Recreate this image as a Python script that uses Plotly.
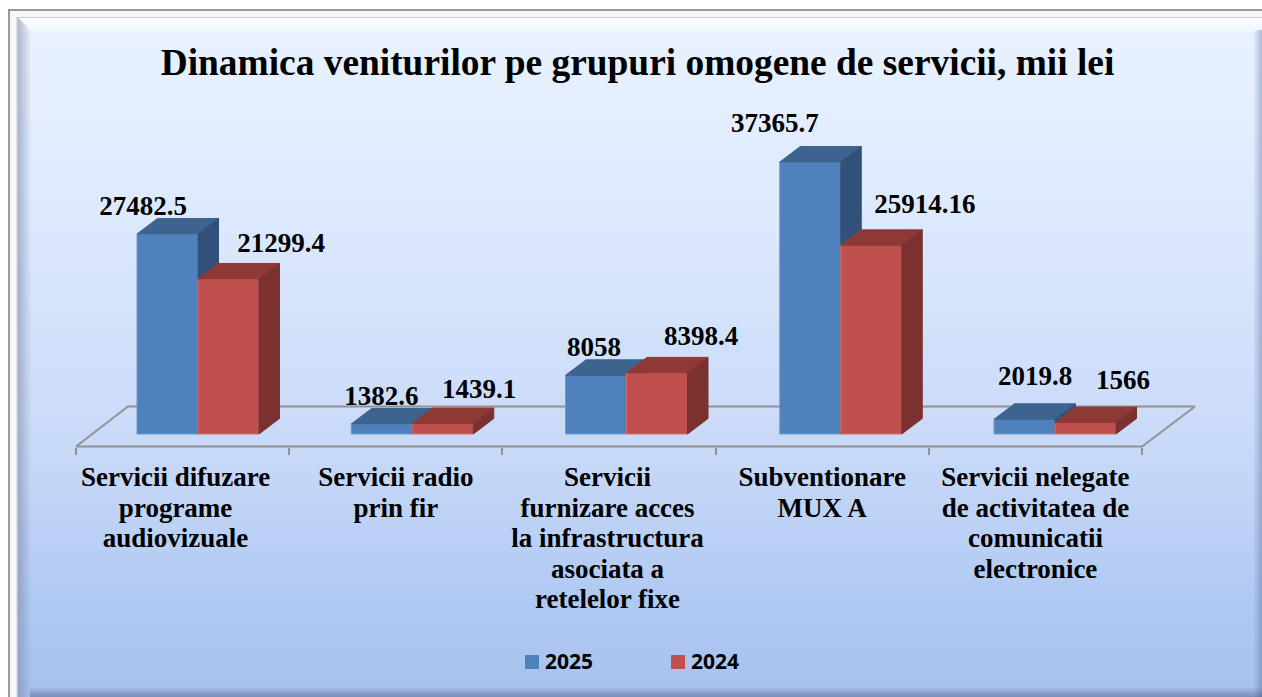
import plotly.graph_objects as go

# ---------- data ----------
categories = [
    "Servicii difuzare<br>programe<br>audiovizuale",
    "Servicii radio<br>prin fir",
    "Servicii<br>furnizare acces<br>la infrastructura<br>asociata a<br>retelelor fixe",
    "Subventionare<br>MUX A",
    "Servicii nelegate<br>de activitatea de<br>comunicatii<br>electronice",
]
series_names = ["2025", "2024"]
values_2025 = [27482.5, 1382.6, 8058, 37365.7, 2019.8]
values_2024 = [21299.4, 1439.1, 8398.4, 25914.16, 1566]
title_text = "Dinamica veniturilor pe grupuri omogene de servicii, mii lei"

# ---------- layout constants ----------
W, H = 1262, 697
BASE_PY = 434.0
VAL_PER_PX = 37365.7 / 272.0
FLOOR_X0, FLOOR_STEP = 76.0, 213.2
BAR_X0, BAR_STEP = 198.0, 214.25
BAR_W_BLUE, BAR_W_RED = 61.0, 61.0
DEPTH_X, DEPTH_Y = 20.5, 15.5
SERIF = "Liberation Serif"

# label offsets from the bar boundary / bar top, in pixels
lab_dx_2025 = [-55, -31, -32.5, -66, -20]
lab_up_2025 = [26, 26, 26.4, 37, 41]
lab_dx_2024 = [83, 66.75, 74.5, 84, 68]
lab_up_2024 = [34, 32.5, 35, 39.4, 40.6]
# horizontal nudge of each category label, in pixels
tick_nudge = [-7, 0, -1.5, 0, 0]

y_range = [(BASE_PY - H) * VAL_PER_PX, BASE_PY * VAL_PER_PX]
fx_range = [-FLOOR_X0 / FLOOR_STEP, (W - FLOOR_X0) / FLOOR_STEP]
bx_range = [-BAR_X0 / BAR_STEP, (W - BAR_X0) / BAR_STEP]


def py(p):  # pixel row -> value
    return (BASE_PY - p) * VAL_PER_PX


def lerp_hex(a, b, t):
    ca = [int(a[i:i + 2], 16) for i in (1, 3, 5)]
    cb = [int(b[i:i + 2], 16) for i in (1, 3, 5)]
    return "#" + "".join(f"{round(x + (y - x) * t):02x}" for x, y in zip(ca, cb))


def paper_rect(x0, y0, x1, y1, color):
    return dict(type="rect", xref="paper", yref="paper", layer="below", line_width=0,
                fillcolor=color, x0=x0 / W, x1=x1 / W, y0=1 - y0 / H, y1=1 - y1 / H)


shapes = []
# outer frame
shapes.append(paper_rect(8, 9, W, H, "#9a9a9a"))
shapes.append(paper_rect(10, 11, W, H, "#f5f7fb"))
shapes.append(paper_rect(16.5, 17, W, H, "#c6cad2"))

# vertical background gradient
stops = [(18, "#eaf2ff"), (210, "#dde9fd"), (450, "#c8d9f8"), (600, "#b0c9f2"), (697, "#a7c2ef")]
for row in range(18, H, 4):
    for (a, ca), (b, cb) in zip(stops, stops[1:]):
        if a <= row <= b:
            shapes.append(paper_rect(18, row, W, row + 4, lerp_hex(ca, cb, (row - a) / (b - a))))
            break

# bevels
for k in range(15):
    shapes.append(paper_rect(18, 18 + k, W, 19 + k, f"rgba(255,255,255,{0.75 - 0.035 * k:.3f})"))
for k in range(13):
    shapes.append(paper_rect(18 + k, 18 + k, 19 + k, H, f"rgba(120,130,160,{0.5 * (1 - k / 13):.3f})"))
for k in range(8):
    shapes.append(paper_rect(W - 8 + k, 30, W - 7 + k, H, f"rgba(70,90,140,{0.06 + 0.04 * k:.3f})"))
for k in range(10):
    shapes.append(paper_rect(30, H - 10 + k, W, H - 9 + k, f"rgba(60,70,110,{0.04 + 0.04 * k:.3f})"))

# custom legend squares (positions in pixels)
legend_colors = ["#4f81bd", "#c0504d"]
legend_sq_x = [525, 671]
for x, c in zip(legend_sq_x, legend_colors):
    shapes.append(paper_rect(x, 655, x + 14, 669, c))


def side_and_top(values, left, width):
    """Polygons for the receding faces of each bar, derived from its value."""
    dx = DEPTH_X / BAR_STEP
    dy = DEPTH_Y * VAL_PER_PX
    w = width / BAR_STEP
    sx, sy, tx, ty = [], [], [], []
    for i, v in enumerate(values):
        xl = i + left
        xr = xl + w
        sx += [xr, xr + dx, xr + dx, xr, xr, None]
        sy += [0, dy, v + dy, v, 0, None]
        tx += [xl, xl + dx, xr + dx, xr, xl, None]
        ty += [v, v + dy, v + dy, v, v, None]
    return sx, sy, tx, ty


def sized(label, px):
    return "<br>".join(f'<span style="font-size:{px}px">{part}</span>' for part in label.split("<br>"))


fig = go.Figure()

# floor (drawn on the base axes)
fig.add_trace(go.Scatter(
    x=[0, (128 - FLOOR_X0) / FLOOR_STEP, (1195 - FLOOR_X0) / FLOOR_STEP, 5, 0],
    y=[py(446.5), py(406.5), py(406.5), py(446.5), py(446.5)],
    mode="lines", line=dict(color="#929292", width=2),
    hoverinfo="skip", showlegend=False, xaxis="x", yaxis="y"))

layers = [
    (values_2025, series_names[0], -BAR_W_BLUE / BAR_STEP, BAR_W_BLUE, "#4f81bd", "#6f98cb", "#3d638f", "#32517a", "x2", "y2"),
    (values_2024, series_names[1], 0.0, BAR_W_RED, "#c0504d", "#cf716e", "#8f3937", "#7b3130", "x3", "y3"),
]
for vals, name, left, width, front, edge, top, side, xa, ya in layers:
    idx = list(range(len(vals)))
    fig.add_trace(go.Bar(x=idx, y=vals, name=name, offset=left, width=width / BAR_STEP,
                         marker=dict(color=front, line=dict(color=edge, width=1)),
                         xaxis=xa, yaxis=ya, showlegend=False))
    sx, sy, tx, ty = side_and_top(vals, left, width)
    fig.add_trace(go.Scatter(x=tx, y=ty, mode="lines", fill="toself", fillcolor=top,
                             line=dict(color=top, width=1), hoverinfo="skip",
                             showlegend=False, xaxis=xa, yaxis=ya))
    fig.add_trace(go.Scatter(x=sx, y=sy, mode="lines", fill="toself", fillcolor=side,
                             line=dict(color=side, width=1), hoverinfo="skip",
                             showlegend=False, xaxis=xa, yaxis=ya))

# data labels on the top layer
for vals, dxs, ups in [(values_2025, lab_dx_2025, lab_up_2025), (values_2024, lab_dx_2024, lab_up_2024)]:
    fig.add_trace(go.Scatter(
        x=[i + d / BAR_STEP for i, d in enumerate(dxs)],
        y=[v + u * VAL_PER_PX for v, u in zip(vals, ups)],
        text=[str(v) for v in vals], mode="text", textposition="middle center",
        textfont=dict(family=SERIF, size=27, color="#000000", weight="bold"),
        hoverinfo="skip", showlegend=False, xaxis="x3", yaxis="y3"))

hidden = dict(visible=False, fixedrange=True)
fig.update_layout(
    width=W, height=H, autosize=False,
    margin=dict(l=0, r=0, t=0, b=0, pad=0),
    paper_bgcolor="#ffffff", plot_bgcolor="rgba(0,0,0,0)",
    showlegend=False, shapes=shapes,
    title=dict(text=title_text, x=637.5 / W, xanchor="center", y=1 - 62 / H, yanchor="middle",
               font=dict(family=SERIF, size=37.4, color="#000000", weight="bold")),
    xaxis=dict(domain=[0, 1], range=fx_range, anchor="free", position=1 - 446.5 / H,
               showgrid=False, zeroline=False, showline=False, fixedrange=True,
               tickmode="array",
               tickvals=[i + 0.5 + n / FLOOR_STEP for i, n in enumerate(tick_nudge)],
               ticktext=[sized(c, 27) for c in categories], ticks="", ticklabelstandoff=15, automargin=False,
               tickangle=0,
               tickfont=dict(family=SERIF, size=23.5, color="#000000", weight="bold"),
               minor=dict(tickmode="array", tickvals=list(range(len(categories) + 1)),
                          ticks="outside", ticklen=7, tickwidth=2, tickcolor="#929292", showgrid=False)),
    yaxis=dict(domain=[0, 1], range=y_range, **hidden),
    xaxis2=dict(range=bx_range, overlaying="x", **hidden),
    yaxis2=dict(range=y_range, overlaying="y", **hidden),
    xaxis3=dict(range=bx_range, overlaying="x", **hidden),
    yaxis3=dict(range=y_range, overlaying="y", **hidden),
    annotations=[
        dict(text=n, xref="paper", yref="paper", x=tx / W, y=1 - 661 / H, xanchor="left", yanchor="middle",
             showarrow=False, font=dict(family="Noto Sans", size=21, color="#000000", weight="bold"))
        for n, tx in zip(series_names, [543, 689])
    ],
)

fig.write_html("out.html", config={"displayModeBar": False},
               post_script="document.body.style.margin='0';document.body.style.overflow='hidden';")
